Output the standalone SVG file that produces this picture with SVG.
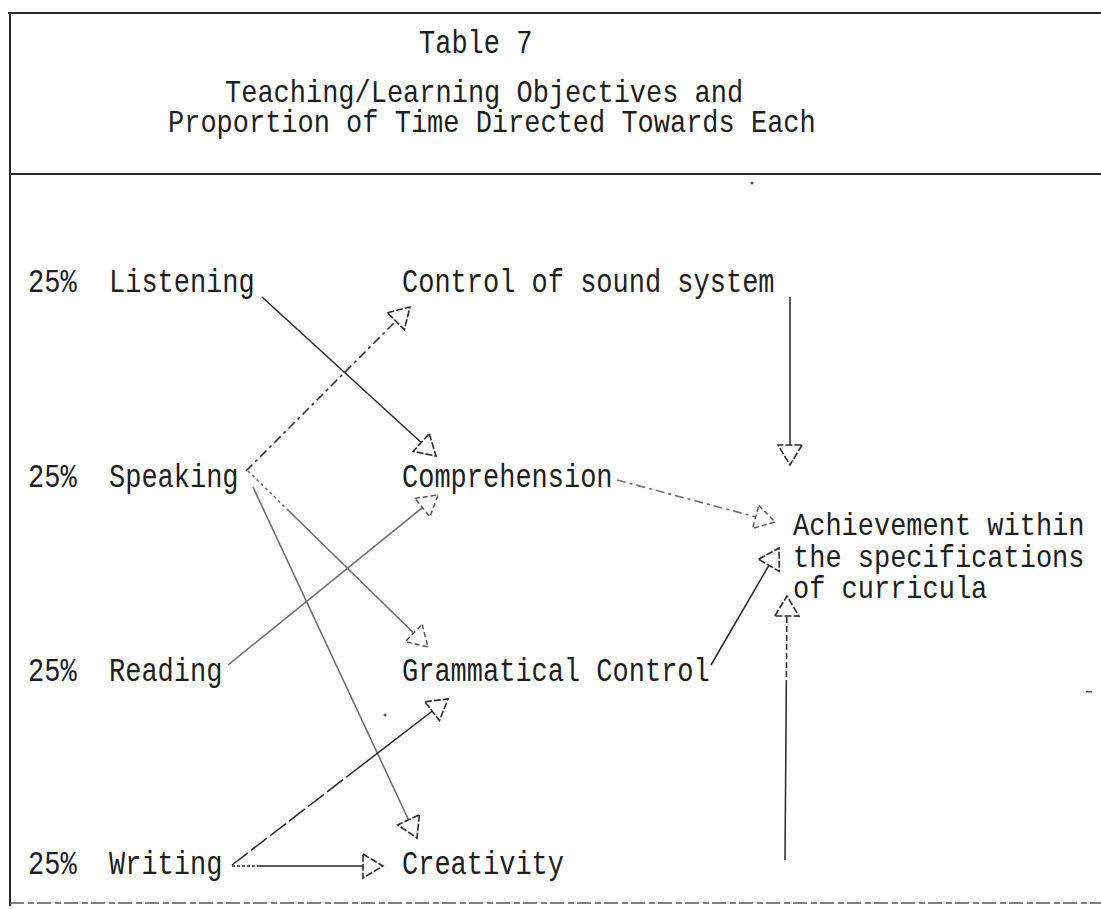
<svg xmlns="http://www.w3.org/2000/svg" width="1101" height="909" viewBox="0 0 1101 909">
  <style>
    .t { font-family: "Liberation Mono", "DejaVu Sans Mono", monospace; font-size: 27px; fill: #1e1e1e; }
    .rule { stroke: #2a2a2a; stroke-width: 2; fill: none; }
    .dark { stroke: #262626; stroke-width: 1.5; fill: none; }
    .grey { stroke: #6e6e6e; stroke-width: 1.6; fill: none; }
    .dash { stroke-dasharray: 9 4 3 4; }
  </style>
  <defs>
    <marker id="tri" viewBox="-3 -15 28 30" refX="20" refY="0" markerWidth="28" markerHeight="30" markerUnits="userSpaceOnUse" orient="auto">
      <path d="M0,-12 L20,0 L0,12 Z" fill="#fff" stroke="#2a2a2a" stroke-width="1.6" stroke-dasharray="7 2"/>
    </marker>
    <marker id="triGrey" viewBox="-3 -15 28 30" refX="20" refY="0" markerWidth="28" markerHeight="30" markerUnits="userSpaceOnUse" orient="auto">
      <path d="M0,-12 L20,0 L0,12 Z" fill="#fff" stroke="#555" stroke-width="1.5" stroke-dasharray="5 3"/>
    </marker>
  </defs>

  <rect width="1101" height="909" fill="#fff"/>

  <!-- table frame -->
  <g id="frame">
    <line class="rule" x1="8" y1="13" x2="1101" y2="13"/>
    <line class="rule" x1="10" y1="13" x2="10" y2="906" stroke-width="1.6"/>
    <line class="rule" x1="10" y1="174" x2="1101" y2="174"/>
    <line x1="10" y1="903" x2="1101" y2="903" stroke="#555" stroke-width="1.6" stroke-dasharray="14 4 6 3"/>
  </g>

  <!-- heading -->
  <g id="heading">
    <text class="t" transform="translate(419,53) scale(1,1.2)">Table 7</text>
    <text class="t" transform="translate(225,102) scale(1,1.15)">Teaching/Learning Objectives and</text>
    <text class="t" transform="translate(168,132) scale(1,1.15)">Proportion of Time Directed Towards Each</text>
  </g>

  <!-- skills with time share -->
  <g id="listening"><text class="t" transform="translate(28,292) scale(1,1.2)">25%<tspan x="81">Listening</tspan></text></g>
  <g id="speaking"><text class="t" transform="translate(28,487) scale(1,1.2)">25%<tspan x="81">Speaking</tspan></text></g>
  <g id="reading"><text class="t" transform="translate(28,681) scale(1,1.2)">25%<tspan x="81">Reading</tspan></text></g>
  <g id="writing"><text class="t" transform="translate(28,874) scale(1,1.2)">25%<tspan x="81">Writing</tspan></text></g>

  <!-- objectives -->
  <g id="sound-system"><text class="t" transform="translate(402,292) scale(1,1.2)">Control of sound system</text></g>
  <g id="comprehension"><text class="t" transform="translate(402,487) scale(1,1.2)">Comprehension</text></g>
  <g id="grammar"><text class="t" transform="translate(402,681) scale(1,1.2)">Grammatical Control</text></g>
  <g id="creativity"><text class="t" transform="translate(402,874) scale(1,1.2)">Creativity</text></g>

  <!-- overall goal -->
  <g id="achievement">
    <text class="t" transform="translate(793,535) scale(1,1.15)">Achievement within</text>
    <text class="t" transform="translate(793,567) scale(1,1.15)">the specifications</text>
    <text class="t" transform="translate(793,598) scale(1,1.15)">of curricula</text>
  </g>

  <!-- arrows -->
  <g id="connectors">
    <line class="dark" x1="262" y1="297" x2="436" y2="456" marker-end="url(#tri)"/>
    <line class="dark dash" x1="246" y1="471" x2="410" y2="307" stroke="#444" marker-end="url(#tri)"/>
    <line class="grey" x1="248" y1="471" x2="428" y2="647" stroke-dasharray="3 3 3 3 3 3 3 3 3 3 3 3 3 3 3 3 3 3 400" marker-end="url(#triGrey)"/>
    <line class="grey" x1="253" y1="487" x2="417" y2="838" stroke="#4a4a4a" marker-end="url(#tri)"/>
    <line class="grey" x1="228" y1="665" x2="438" y2="495" marker-end="url(#triGrey)"/>
    <line class="dark" x1="232" y1="865" x2="448" y2="699" stroke-width="1.8" stroke-dasharray="20 4 20 4 20 4 20 4 20 4 20 4 300" marker-end="url(#tri)"/>
    <line class="dark" x1="232" y1="866" x2="383" y2="866" stroke-dasharray="3 2 3 2 3 2 3 2 3 2 300" marker-end="url(#tri)"/>
    <line class="dark" x1="790" y1="297" x2="790" y2="465" marker-end="url(#tri)"/>
    <line class="grey dash" x1="617" y1="480" x2="775" y2="522" marker-end="url(#triGrey)"/>
    <line class="dark" x1="711" y1="665" x2="779" y2="548" marker-end="url(#tri)"/>
    <line class="dark" x1="785" y1="860" x2="787" y2="596" stroke-dasharray="180 3 6 3 6 3 6 3 6 3 6 3 6 3 6 3 6 3" marker-end="url(#tri)"/>
  </g>

  <!-- specks on the sheet -->
  <g id="specks" fill="#555">
    <circle cx="752" cy="183" r="1.5"/>
    <circle cx="385" cy="715" r="1.5"/>
    <rect x="1086" y="691" width="6" height="1.5"/>
  </g>
</svg>
